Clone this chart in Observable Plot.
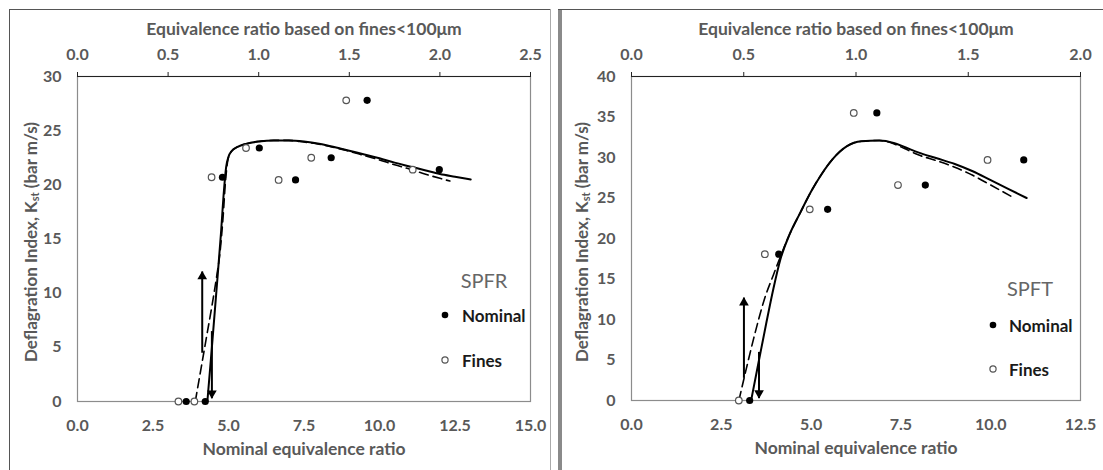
<!DOCTYPE html>
<html><head><meta charset="utf-8">
<script src="https://cdn.jsdelivr.net/npm/d3@7"></script>
<script src="https://cdn.jsdelivr.net/npm/@observablehq/plot@0.6"></script>
<style>
body{margin:0;background:#fff}
#root{position:relative;width:1103px;height:470px;overflow:hidden;background:#fff;font-family:Lato,sans-serif}
.panel{position:absolute;top:0}
.b{position:absolute}
</style></head><body>
<div id="root">
  <div id="left" class="panel" style="left:0;width:551px;height:470px"></div>
  <div id="right" class="panel" style="left:551px;width:552px;height:470px"></div>
  <div class="b" style="left:9px;top:9px;width:1px;height:470px;background:#555"></div>
  <div class="b" style="left:9px;top:9px;width:542px;height:1px;background:#555"></div>
  <div class="b" style="left:550px;top:9px;width:1px;height:470px;background:#aaa"></div>
  <div class="b" style="left:558px;top:9px;width:4px;height:470px;background:#8a8a8a"></div>
  <div class="b" style="left:558px;top:9px;width:545px;height:1px;background:#555"></div>
</div>
<script>
// ---------- Axis ticks ----------
const leftXTicks = [0, 2.5, 5, 7.5, 10, 12.5, 15];
const leftTopTicks = [0, 0.5, 1, 1.5, 2, 2.5];
const leftYTicks = [0, 5, 10, 15, 20, 25, 30];
const rightXTicks = [0, 2.5, 5, 7.5, 10, 12.5];
const rightTopTicks = [0, 0.5, 1, 1.5, 2];
const rightYTicks = [0, 5, 10, 15, 20, 25, 30, 35, 40];

// ---------- Texts ----------
const topTitle = "Equivalence ratio based on fines<100μm";
const bottomTitle = "Nominal equivalence ratio";
const yTitleParts = ["Deflagration Index, K", "st", " (bar m/s)"];
const leftName = "SPFR";
const rightName = "SPFT";
const legendLabels = ["Nominal", "Fines"];

// ---------- SPFR (left) data ----------
const spfrNominalX = [3.60, 4.23, 4.80, 6.02, 7.22, 8.40, 9.59, 11.98];
const spfrNominalY = [0, 0, 20.7, 23.4, 20.45, 22.5, 27.8, 21.4];
const spfrFinesX = [0.557, 0.645, 0.74, 0.93, 1.11, 1.29, 1.483, 1.85]; // fines equivalence ratio (top axis)
const spfrFinesY = [0, 0, 20.7, 23.4, 20.45, 22.5, 27.8, 21.4];
const spfrSolidX = [4.30, 4.45, 4.60, 4.75, 4.85, 4.92, 5.00, 5.10, 5.30, 5.60, 6.00, 6.50, 7.00, 7.50, 8.00, 8.50, 9.00, 9.50, 10.0, 10.5, 11.0, 11.5, 12.0, 12.5, 13.02];
const spfrSolidY = [0, 5, 10.2, 15.5, 19.5, 21.6, 22.6, 23.1, 23.5, 23.8, 24.0, 24.1, 24.1, 24.0, 23.8, 23.5, 23.15, 22.8, 22.45, 22.05, 21.7, 21.35, 21.0, 20.75, 20.5];
const spfrDashX = [3.90, 4.10, 4.30, 4.45, 4.60, 4.72, 4.82, 4.90, 4.98, 5.10, 5.30, 5.60, 6.00, 6.50, 7.00, 7.50, 8.00, 8.50, 9.00, 9.50, 10.0, 10.5, 11.0, 11.5, 12.0, 12.33];
const spfrDashY = [0, 3.2, 6.4, 8.8, 11.4, 13.8, 17.0, 20.3, 22.3, 23.1, 23.5, 23.8, 24.0, 24.1, 24.1, 23.95, 23.75, 23.45, 23.1, 22.7, 22.3, 21.85, 21.45, 21.0, 20.6, 20.35];
const spfrArrowX = [4.13, 4.45];
const spfrArrowFrom = [4.5, 6.5];
const spfrArrowTo = [12.0, 0.3];

// ---------- SPFT (right) data ----------
const spftNominalX = [3.29, 4.10, 5.46, 6.83, 8.18, 10.92];
const spftNominalY = [0, 18.06, 23.6, 35.5, 26.6, 29.7];
const spftFinesX = [0.478, 0.594, 0.794, 0.99, 1.187, 1.586];
const spftFinesY = [0, 18.06, 23.6, 35.5, 26.6, 29.7];
const spftSolidX = [3.33, 3.55, 3.75, 3.95, 4.15, 4.40, 4.70, 5.00, 5.30, 5.60, 6.00, 6.40, 6.90, 7.30, 7.60, 8.00, 8.50, 9.00, 9.50, 10.0, 10.5, 11.0];
const spftSolidY = [0, 5, 9.5, 13.8, 17.5, 20.5, 23.2, 25.8, 28.0, 29.8, 31.4, 32.0, 32.1, 31.8, 31.3, 30.6, 29.9, 29.2, 28.3, 27.2, 26.1, 25.0];
const spftDashX = [2.99, 3.20, 3.45, 3.70, 3.95, 4.15, 4.40, 4.70, 5.00, 5.30, 5.60, 6.00, 6.40, 6.90, 7.30, 7.60, 8.00, 8.50, 9.00, 9.50, 10.0, 10.65];
const spftDashY = [0, 4.0, 8.5, 12.5, 15.5, 17.8, 20.5, 23.2, 25.8, 28.0, 29.8, 31.4, 32.0, 32.1, 31.7, 31.1, 30.3, 29.6, 28.8, 27.8, 26.6, 25.0];
const spftArrowX = [3.13, 3.55];
const spftArrowFrom = [2.8, 6.0];
const spftArrowTo = [12.7, 0.3];

const zip = (xs, ys) => xs.map((x, i) => ({x, y: ys[i]}));
const arrowsOf = (xs, from, to) => xs.map((x, i) => ({x, y1: from[i], y2: to[i]}));

const GRAY = "#595959";

function panel(cfg) {
  const factor = d3.max(cfg.xTicks) / d3.max(cfg.topTicks);
  const nominal = zip(cfg.nomX, cfg.nomY);
  const fines = zip(cfg.finX, cfg.finY);
  const solid = zip(cfg.solX, cfg.solY);
  const dashed = zip(cfg.dashX, cfg.dashY);
  const arrows = arrowsOf(cfg.arX, cfg.arFrom, cfg.arTo);
  const up = arrows.filter(d => d.y2 > d.y1);
  const down = arrows.filter(d => d.y2 < d.y1);
  const svg = Plot.plot({
    width: cfg.width, height: 470,
    marginLeft: cfg.ml, marginRight: cfg.mr, marginTop: 76, marginBottom: cfg.mb,
    style: {fontFamily: "Lato", fontSize: "16px", fontWeight: "bold", color: GRAY, background: "#fff", overflow: "visible"},
    x: {domain: [0, d3.max(cfg.xTicks)]},
    y: {domain: [0, d3.max(cfg.yTicks)]},
    marks: [
      Plot.frame({stroke: "#8c8c8c", strokeWidth: 1.2}),
      Plot.ruleY([d3.max(cfg.yTicks)], {stroke: "#222", strokeWidth: 1.2}),
      Plot.axisY(cfg.yTicks, {tickSize: 0, tickPadding: 16, tickFormat: d => String(d), label: null, fontSize: 16}),
      Plot.axisX(cfg.xTicks, {anchor: "bottom", tickSize: 0, tickPadding: 18, tickFormat: d => d.toFixed(1), label: null, fontSize: 16}),
      Plot.axisX(cfg.topTicks.map(t => t * factor), {anchor: "top", tickSize: 5, tickPadding: 12, stroke: "#222", tickFormat: d => (d / factor).toFixed(1), label: null, fontSize: 16}),
      Plot.text([topTitle], {frameAnchor: "top", lineAnchor: "middle", dy: -47, text: d => d, fill: GRAY, fontSize: 17.5}),
      Plot.text([bottomTitle], {frameAnchor: "bottom", lineAnchor: "middle", dy: 48, text: d => d, fill: GRAY, fontSize: 17.5}),
      Plot.line(dashed, {x: "x", y: "y", curve: "monotone-x", stroke: "#000", strokeWidth: 1.6, strokeDasharray: "9,5"}),
      Plot.line(solid, {x: "x", y: "y", curve: "monotone-x", stroke: "#000", strokeWidth: 2}),
      Plot.link(arrows, {x1: "x", x2: "x", y1: "y1", y2: "y2", stroke: "#000", strokeWidth: 2}),
      Plot.dot(up, {x: "x", y: "y2", symbol: "triangle", r: 3.6, fill: "#000", stroke: null, dy: 5}),
      Plot.dot(down, {x: "x", y: "y2", symbol: "triangle", r: 3.6, fill: "#000", stroke: null, rotate: 180, dy: -5}),
      Plot.dot(fines, {x: d => d.x * factor, y: "y", r: 3.3, fill: "#fff", stroke: "#555", strokeWidth: 1.2}),
      Plot.dot(nominal, {x: "x", y: "y", r: 3.6, fill: "#000", stroke: null})
    ]
  });
  const s = d3.select(svg);
  // y-axis title with subscript
  const t = s.append("text")
    .attr("transform", `translate(${cfg.ylx},242) rotate(-90)`)
    .attr("text-anchor", "middle").attr("dominant-baseline", "central")
    .attr("fill", GRAY).attr("font-size", 17).attr("font-weight", "bold");
  t.append("tspan").text(yTitleParts[0]);
  t.append("tspan").attr("dy", 4).attr("font-size", 11).text(yTitleParts[1]);
  t.append("tspan").attr("dy", -4).text(yTitleParts[2]);
  // legend
  const L = cfg.legend;
  s.append("text").attr("x", L.nameX).attr("y", L.nameY).attr("text-anchor", "middle")
    .attr("dominant-baseline", "central").attr("font-size", 20).attr("font-weight", "normal")
    .attr("fill", "#666").text(cfg.name);
  s.append("circle").attr("cx", L.bx).attr("cy", L.y1).attr("r", 3.3).attr("fill", "#000");
  s.append("circle").attr("cx", L.bx).attr("cy", L.y2).attr("r", 3.1).attr("fill", "#fff").attr("stroke", "#555").attr("stroke-width", 1.2);
  s.append("text").attr("x", L.tx).attr("y", L.y1).attr("text-anchor", "start").attr("dominant-baseline", "central")
    .attr("font-size", 17).attr("fill", "#1a1a1a").text(legendLabels[0]);
  s.append("text").attr("x", L.tx).attr("y", L.y2).attr("text-anchor", "start").attr("dominant-baseline", "central")
    .attr("font-size", 17).attr("fill", "#1a1a1a").text(legendLabels[1]);
  return svg;
}

document.getElementById("left").appendChild(panel({
  width: 551, ml: 77, mr: 21, mb: 69, ylx: 30,
  xTicks: leftXTicks, topTicks: leftTopTicks, yTicks: leftYTicks,
  nomX: spfrNominalX, nomY: spfrNominalY, finX: spfrFinesX, finY: spfrFinesY,
  solX: spfrSolidX, solY: spfrSolidY, dashX: spfrDashX, dashY: spfrDashY,
  arX: spfrArrowX, arFrom: spfrArrowFrom, arTo: spfrArrowTo,
  name: leftName,
  legend: {nameX: 484, nameY: 280, bx: 445, tx: 462, y1: 315, y2: 360}
}));
document.getElementById("right").appendChild(panel({
  width: 552, ml: 80, mr: 23, mb: 70, ylx: 30,
  xTicks: rightXTicks, topTicks: rightTopTicks, yTicks: rightYTicks,
  nomX: spftNominalX, nomY: spftNominalY, finX: spftFinesX, finY: spftFinesY,
  solX: spftSolidX, solY: spftSolidY, dashX: spftDashX, dashY: spftDashY,
  arX: spftArrowX, arFrom: spftArrowFrom, arTo: spftArrowTo,
  name: rightName,
  legend: {nameX: 479, nameY: 288, bx: 442, tx: 458, y1: 325, y2: 369}
}));
</script>
</body></html>
